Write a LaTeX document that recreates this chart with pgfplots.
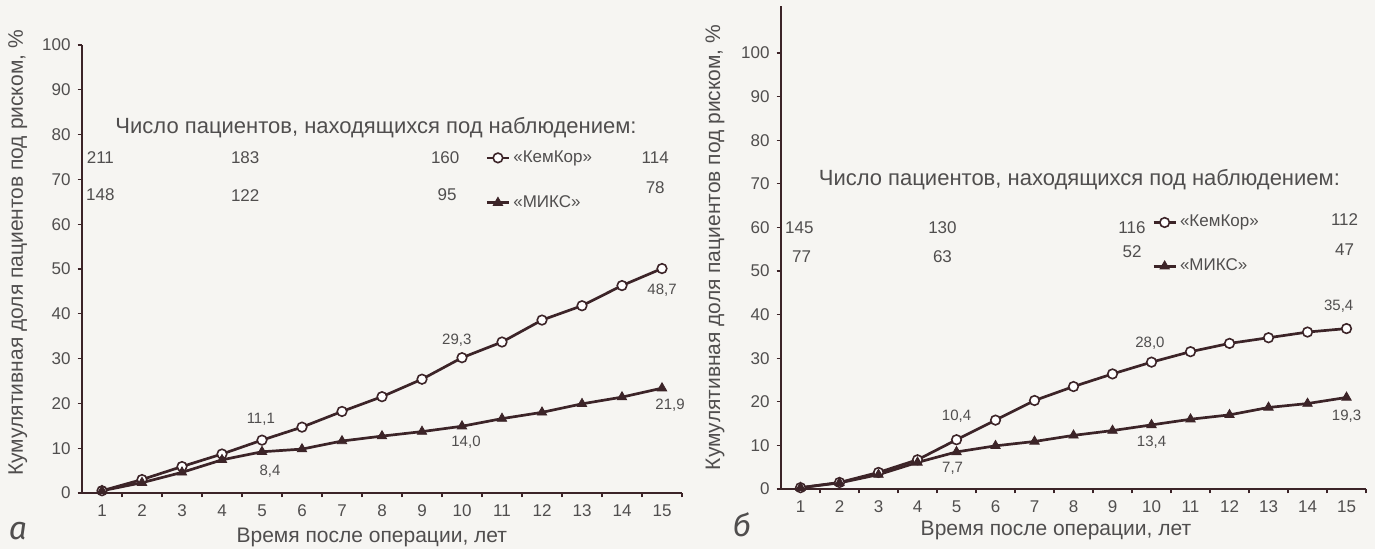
\documentclass[border=0pt]{standalone}
\usepackage{fontspec}
\setmainfont{Liberation Sans}
\newfontfamily\letterfont{Fira Sans}
\usepackage{pgfplots}
\pgfplotsset{compat=1.18}
\definecolor{paper}{RGB}{246,245,242}
\definecolor{ln}{RGB}{60,36,40}
\definecolor{txt}{RGB}{80,78,78}
\tikzset{
  cnt/.style={font=\fontsize{8.5}{10}\selectfont, text=txt, inner sep=0pt},
  dl/.style={font=\fontsize{7.5}{9}\selectfont, text=txt, inner sep=0pt},
  ttl/.style={font=\fontsize{11}{13}\selectfont, text=txt, inner sep=0pt},
}
\pgfplotsset{
  mystyle/.style={
    scale only axis,
    axis lines=left,
    axis line style={-, draw=ln, line width=0.7pt},
    xmin=0.5, xmax=15.5, ymin=0,
    xtick={1,...,15},
    minor xtick={1.5,2.5,...,15.5},
    ytick={0,10,...,100},
    tick align=outside,
    major x tick style={draw=none},
    minor tick length=2.2pt,
    major tick length=2.2pt,
    every tick/.style={draw=ln, line width=0.6pt},
    tick label style={font=\fontsize{8.5}{10}\selectfont, text=txt},
    /pgf/number format/assume math mode=true,
    label style={font=\fontsize{10.5}{12}\selectfont, text=txt},
    clip=false,
    legend cell align=left,
    legend image code/.code={\draw[mark repeat=2,mark phase=2] plot coordinates {(0pt,0pt) (5.5pt,0pt) (11pt,0pt)};},
  },
  kem/.style={draw=ln, line width=1.35pt, mark=*, mark size=2.4pt, mark options={fill=white, draw=ln, line width=0.8pt, solid}},
  mix/.style={draw=ln, line width=1.35pt, mark=triangle*, mark size=2.7pt, mark options={fill=ln, draw=ln, line width=0.4pt, solid}},
}
\begin{document}
\begin{tikzpicture}
\useasboundingbox (0,0) rectangle (687.5pt,274.5pt);
\fill[paper] (0,0) rectangle (687.5pt,274.5pt);
% ---------------- panel a ----------------
\begin{axis}[mystyle,
  at={(41pt,28pt)}, anchor=south west,
  width=300pt, height=224pt, ymax=100,
  xlabel={Время после операции, лет},
  ylabel={Кумулятивная доля пациентов под риском, \%},
  xlabel style={at={(axis description cs:0.483,-0.1)}, anchor=center},
  ylabel style={at={(axis description cs:-0.107,0.536)}, anchor=center},
  legend style={draw=none, fill=none, at={(axis description cs:0.672,0.772)}, anchor=north west, inner sep=0pt,
    font=\fontsize{8.5}{10}\selectfont, text=txt, row sep=12pt,
    nodes={inner sep=1.5pt}},
]
\addplot[kem] coordinates {(1,0.5) (2,3.0) (3,5.9) (4,8.7) (5,11.8) (6,14.7) (7,18.2) (8,21.5) (9,25.4) (10,30.2) (11,33.7) (12,38.6) (13,41.8) (14,46.3) (15,50.1)};
\addlegendentry{«КемКор»}
\addplot[mix] coordinates {(1,0.5) (2,2.3) (3,4.6) (4,7.4) (5,9.2) (6,9.8) (7,11.6) (8,12.7) (9,13.7) (10,14.9) (11,16.6) (12,18.0) (13,19.9) (14,21.4) (15,23.4)};
\addlegendentry{«МИКС»}
\node[ttl] at (axis cs:7.85,81.5) {Число пациентов, находящихся под наблюдением:};
\node[cnt] at (axis cs:0.96,74.8) {211};
\node[cnt] at (axis cs:4.58,74.8) {183};
\node[cnt] at (axis cs:9.58,74.8) {160};
\node[cnt] at (axis cs:14.83,74.8) {114};
\node[cnt] at (axis cs:0.96,66.5) {148};
\node[cnt] at (axis cs:4.58,66.5) {122};
\node[cnt] at (axis cs:9.63,66.5) {95};
\node[cnt] at (axis cs:14.83,68.1) {78};
\node[dl] at (axis cs:4.97,16.5) {11,1};
\node[dl] at (axis cs:5.2,4.9) {8,4};
\node[dl] at (axis cs:9.87,34.2) {29,3};
\node[dl] at (axis cs:10.1,11.25) {14,0};
\node[dl] at (axis cs:15.0,45.2) {48,7};
\node[dl] at (axis cs:15.2,19.7) {21,9};
\end{axis}
\node[text=txt, font=\letterfont\itshape\fontsize{16}{18}\selectfont] at (9pt,9pt) {а};
% ---------------- panel b ----------------
\begin{axis}[mystyle,
  at={(390.5pt,30pt)}, anchor=south west,
  width=292.5pt, height=241.5pt, ymax=110.8,
  xlabel={Время после операции, лет},
  ylabel={Кумулятивная доля пациентов под риском, \%},
  xlabel style={at={(axis description cs:0.47,-0.085)}, anchor=center},
  ylabel style={at={(axis description cs:-0.113,0.50)}, anchor=center},
  legend style={draw=none, fill=none, at={(axis description cs:0.634,0.574)}, anchor=north west, inner sep=0pt,
    font=\fontsize{8.5}{10}\selectfont, text=txt, row sep=11.5pt,
    nodes={inner sep=1.5pt}},
]
\addplot[kem] coordinates {(1,0.3) (2,1.5) (3,3.8) (4,6.7) (5,11.3) (6,15.8) (7,20.3) (8,23.5) (9,26.4) (10,29.1) (11,31.5) (12,33.4) (13,34.7) (14,36.0) (15,36.8)};
\addlegendentry{«КемКор»}
\addplot[mix] coordinates {(1,0.3) (2,1.4) (3,3.3) (4,6.1) (5,8.5) (6,9.9) (7,10.9) (8,12.3) (9,13.4) (10,14.7) (11,16.0) (12,17.0) (13,18.7) (14,19.6) (15,21.0)};
\addlegendentry{«МИКС»}
\node[ttl] at (axis cs:8.15,70.9) {Число пациентов, находящихся под наблюдением:};
\node[cnt] at (axis cs:0.97,59.9) {145};
\node[cnt] at (axis cs:4.64,59.9) {130};
\node[cnt] at (axis cs:9.5,59.9) {116};
\node[cnt] at (axis cs:14.95,61.7) {112};
\node[cnt] at (axis cs:1.03,53.2) {77};
\node[cnt] at (axis cs:4.64,53.2) {63};
\node[cnt] at (axis cs:9.5,54.4) {52};
\node[cnt] at (axis cs:14.95,54.8) {47};
\node[dl] at (axis cs:5.0,16.6) {10,4};
\node[dl] at (axis cs:4.9,4.8) {7,7};
\node[dl] at (axis cs:9.96,33.5) {28,0};
\node[dl] at (axis cs:10.0,10.7) {13,4};
\node[dl] at (axis cs:14.8,41.9) {35,4};
\node[dl] at (axis cs:15.0,16.6) {19,3};
\end{axis}
\node[text=txt, font=\letterfont\itshape\fontsize{16}{18}\selectfont] at (371pt,12pt) {б};
\end{tikzpicture}
\end{document}
